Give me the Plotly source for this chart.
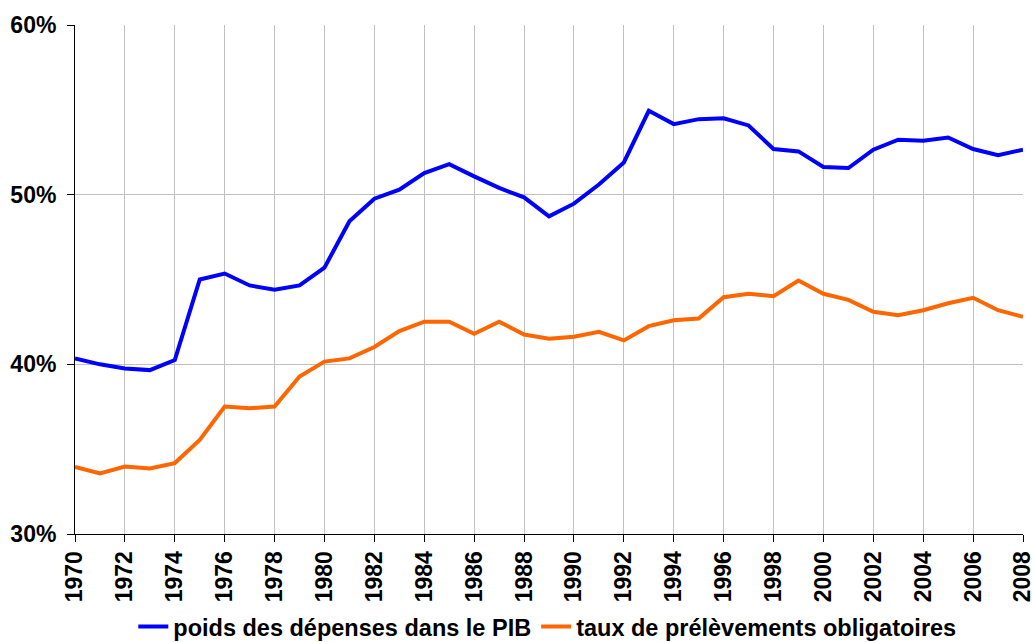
import plotly.graph_objects as go

years = list(range(1970, 2009))
depenses = [40.35, 40.0, 39.76, 39.66, 40.25, 45.0, 45.35, 44.65, 44.4, 44.65,
            45.7, 48.43, 49.76, 50.3, 51.27, 51.8, 51.08, 50.4, 49.84, 48.72,
            49.47, 50.6, 51.9, 54.94, 54.16, 54.45, 54.5, 54.08, 52.69, 52.55,
            51.63, 51.57, 52.65, 53.24, 53.18, 53.37, 52.69, 52.33, 52.65]
prelevements = [33.96, 33.57, 33.98, 33.86, 34.18, 35.55, 37.51, 37.41, 37.51, 39.28,
                40.16, 40.35, 41.02, 41.96, 42.51, 42.51, 41.8, 42.51, 41.76, 41.51,
                41.63, 41.92, 41.41, 42.25, 42.6, 42.7, 43.96, 44.16, 44.02, 44.94,
                44.16, 43.8, 43.1, 42.9, 43.19, 43.6, 43.92, 43.19, 42.8]
names = ["poids des dépenses dans le PIB", "taux de prélèvements obligatoires"]
colors = ["#0000FF", "#FF6600"]
y_ticks = [30, 40, 50, 60]
y_labels = ["30%", "40%", "50%", "60%"]

tick_font = dict(family="Arial, Liberation Sans, sans-serif", size=23, color="black", weight="bold")
legend_font = dict(family="Arial, Liberation Sans, sans-serif", size=23.5, color="black", weight="bold")

fig = go.Figure()
for vals, nm, col in zip([depenses, prelevements], names, colors):
    fig.add_trace(go.Scatter(x=years, y=vals, mode="lines", name=nm,
                             line=dict(color=col, width=4), cliponaxis=False))

fig.update_layout(
    width=1032, height=642,
    margin=dict(l=75, r=9, t=25, b=108, autoexpand=False),
    paper_bgcolor="white", plot_bgcolor="white",
    font=tick_font,
    showlegend=True,
    legend=dict(orientation="h", x=0.0615, xanchor="left", y=-0.182, yanchor="middle",
                itemwidth=30, font=legend_font, bgcolor="rgba(0,0,0,0)",
                tracegroupgap=0),
)
fig.update_xaxes(range=[1970, 2008], tickmode="linear", tick0=1970, dtick=2,
                 tickangle=-90, ticks="outside", ticklen=7, tickcolor="black",
                 showline=True, linecolor="black", linewidth=1, automargin=False,
                 ticklabeloverflow="allow",
                 showgrid=True, gridcolor="#C0C0C0", gridwidth=1, tickfont=tick_font)
fig.update_yaxes(range=[30, 60], tickvals=y_ticks, ticktext=y_labels,
                 ticks="outside", ticklen=7, tickcolor="black", ticklabelstandoff=6,
                 showline=True, linecolor="black", linewidth=1, automargin=False,
                 showgrid=True, gridcolor="#C0C0C0", gridwidth=1, tickfont=tick_font,
                 zeroline=False)

fig.write_html("out.html", config={"displayModeBar": False},
               post_script="document.body.style.margin='0';")
